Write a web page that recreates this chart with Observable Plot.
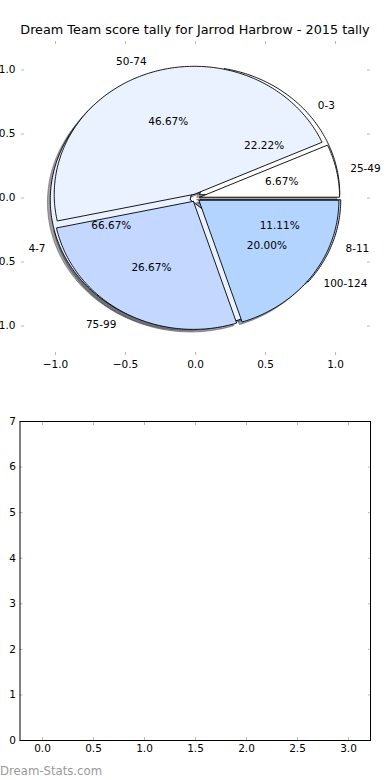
<!DOCTYPE html>
<html>
<head>
<meta charset="utf-8">
<script src="https://cdn.jsdelivr.net/npm/d3@7"></script>
<script src="https://cdn.jsdelivr.net/npm/@observablehq/plot@0.6"></script>
<style>
  html, body { margin: 0; padding: 0; background: #fff; }
  #wrap { position: relative; width: 390px; height: 780px; overflow: hidden; font-family: "DejaVu Sans", sans-serif; }
  #title { position: absolute; left: 0; width: 390px; top: 22px; text-align: center; font-size: 12.8px; color: #000; white-space: nowrap; }
  #pie { position: absolute; left: 0; top: 0; }
  #empty { position: absolute; left: 0; top: 400px; }
  #credit { position: absolute; left: 0; top: 764px; font-size: 11.7px; color: #999; white-space: nowrap; }
</style>
</head>
<body>
<div id="wrap">
  <div id="pie"></div>
  <div id="empty"></div>
  <div id="title">Dream Team score tally for Jarrod Harbrow - 2015 tally</div>
  <div id="credit">Dream-Stats.com</div>
</div>
<script>
// ---- data ----
const tallyLabels = ["0-3", "4-7", "8-11"];
const tallyCounts = [2, 6, 1];            // 22.22%, 66.67%, 11.11%
const scoreLabels = ["25-49", "50-74", "75-99", "100-124"];
const scoreCounts = [1, 7, 4, 3];         // 6.67%, 46.67%, 26.67%, 20.00%
const sliceColors = ["#ffffff", "#eaf1ff", "#c4d8ff", "#b3d4ff"];
const pieTicks = [-1.0, -0.5, 0.0, 0.5, 1.0];
const emptyXTicks = [0.0, 0.5, 1.0, 1.5, 2.0, 2.5, 3.0];
const emptyYTicks = [0, 1, 2, 3, 4, 5, 6, 7];

// ---- build wedges (matplotlib-style pie: counter-clockwise from 0°) ----
function buildPie(values, labels, explode) {
  const total = d3.sum(values);
  let cum = 0;
  return values.map((v, i) => {
    const t1 = 360 * cum / total;
    cum += v;
    const t2 = 360 * cum / total;
    const mid = (t1 + t2) / 2 * Math.PI / 180;
    const ox = explode * Math.cos(mid), oy = explode * Math.sin(mid);
    const pts = [{x: ox, y: oy}];
    const n = Math.max(2, Math.ceil(t2 - t1));
    for (let k = 0; k <= n; k++) {
      const a = (t1 + (t2 - t1) * k / n) * Math.PI / 180;
      pts.push({x: ox + Math.cos(a), y: oy + Math.sin(a)});
    }
    pts.push({x: ox, y: oy});
    const pct = (100 * v / total).toFixed(2) + "%";
    return {
      label: labels[i], pct, color: sliceColors[i], pts,
      lx: (explode + 1.1) * Math.cos(mid), ly: (explode + 1.1) * Math.sin(mid),
      px: (explode + 0.6) * Math.cos(mid), py: (explode + 0.6) * Math.sin(mid)
    };
  });
}
const pieA = buildPie(tallyCounts, tallyLabels, 0.04);
const pieB = buildPie(scoreCounts, scoreLabels, 0.03);
const all = pieA.concat(pieB);

function shadowColor(c) {
  const r = d3.rgb(c);
  return d3.rgb(r.r * 0.3, r.g * 0.3, r.b * 0.3).formatHex();
}

const shadowMarks = all.map(w => Plot.line(w.pts.map(p => ({x: p.x - 0.02, y: p.y - 0.02})), {
  x: "x", y: "y", fill: shadowColor(w.color), fillOpacity: 0.5,
  stroke: shadowColor(w.color), strokeOpacity: 0.5, strokeWidth: 1, curve: "linear"
}));
const wedgeMarks = all.map(w => Plot.line(w.pts, {
  x: "x", y: "y", fill: w.color, stroke: "#000", strokeWidth: 0.9, strokeLinejoin: "miter", curve: "linear"
}));

const tickGrey = "#b8b8b8";
const fmt1 = d3.format(".1f");

const pie = Plot.plot({
  width: 390, height: 380,
  marginTop: 40, marginBottom: 25, marginLeft: 21, marginRight: 21,
  x: {domain: [-1.243, 1.243]},
  y: {domain: [-1.23, 1.23]},
  style: {fontFamily: "DejaVu Sans", fontSize: "10.5px", color: "#000", background: "transparent"},
  marks: [
    ...shadowMarks,
    ...wedgeMarks,
    Plot.text(all.filter(w => w.lx > 0), {x: "lx", y: "ly", text: "label", textAnchor: "start", fontSize: 10.5, dy: 1}),
    Plot.text(all.filter(w => w.lx <= 0), {x: "lx", y: "ly", text: "label", textAnchor: "end", fontSize: 10.5, dy: 1}),
    Plot.text(all, {x: "px", y: "py", text: "pct", textAnchor: "middle", fontSize: 10.5}),
    Plot.axisX(pieTicks, {anchor: "bottom", tickSize: -3, tickPadding: 8, tickFormat: fmt1, stroke: tickGrey, fill: "#000"}),
    Plot.axisX(pieTicks, {anchor: "top", tickSize: -3, tickFormat: () => "", stroke: tickGrey}),
    Plot.axisY(pieTicks, {anchor: "left", tickSize: -3, tickPadding: 9, tickFormat: fmt1, stroke: tickGrey, fill: "#000"}),
    Plot.axisY(pieTicks, {anchor: "right", tickSize: -3, tickFormat: () => "", stroke: tickGrey})
  ]
});
document.getElementById("pie").appendChild(pie);

const empty = Plot.plot({
  width: 390, height: 380,
  marginTop: 21, marginBottom: 40, marginLeft: 19.5, marginRight: 20,
  x: {domain: [-0.2206, 3.2157]},
  y: {domain: [0, 7]},
  style: {fontFamily: "DejaVu Sans", fontSize: "10.5px", color: "#000", background: "transparent"},
  marks: [
    Plot.axisX(emptyXTicks, {anchor: "bottom", tickSize: -3, tickPadding: 7, tickFormat: fmt1, stroke: tickGrey, fill: "#000"}),
    Plot.axisX(emptyXTicks, {anchor: "top", tickSize: -3, tickFormat: () => "", stroke: tickGrey}),
    Plot.axisY(emptyYTicks, {anchor: "left", tickSize: -3, tickPadding: 7, tickFormat: d3.format("d"), stroke: tickGrey, fill: "#000"}),
    Plot.axisY(emptyYTicks, {anchor: "right", tickSize: -3, tickFormat: () => "", stroke: tickGrey}),
    Plot.frame({stroke: "#000", strokeWidth: 1})
  ]
});
document.getElementById("empty").appendChild(empty);
</script>
</body>
</html>
